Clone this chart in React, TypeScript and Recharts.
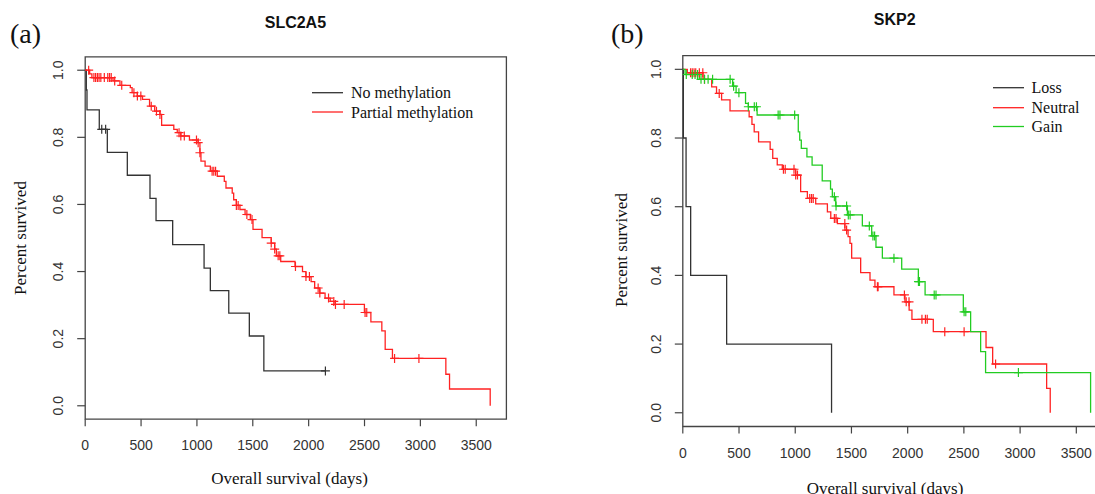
import React from "react";
import { ComposedChart, Line, XAxis, YAxis, ReferenceArea } from "recharts";

// ---- panel (a) SLC2A5 ----
const aNoT = [0, 10, 16, 126, 198, 377, 580, 634, 783, 1064, 1120, 1285, 1469, 1599, 2150];
const aNoS = [1, 0.941, 0.882, 0.824, 0.755, 0.687, 0.618, 0.552, 0.48, 0.41, 0.343, 0.276, 0.208, 0.104, 0.104];
const aNoCens = [148, 183, 2150];

const aPartT = [0, 40, 60, 249, 311, 404, 420, 467, 513, 576, 622, 669, 684, 793, 824, 856, 933, 1011, 1027, 1036, 1073, 1120, 1182, 1245, 1260, 1316, 1329, 1353, 1385, 1431, 1478, 1502, 1583, 1665, 1696, 1711, 1750, 1878, 1945, 1976, 2022, 2054, 2100, 2147, 2193, 2236, 2499, 2557, 2655, 2685, 2750, 3228, 3261, 3625];
const aPartS = [1, 0.989, 0.978, 0.968, 0.955, 0.948, 0.933, 0.923, 0.913, 0.893, 0.878, 0.868, 0.836, 0.824, 0.814, 0.804, 0.792, 0.784, 0.754, 0.729, 0.714, 0.699, 0.684, 0.669, 0.649, 0.634, 0.614, 0.597, 0.585, 0.57, 0.555, 0.526, 0.501, 0.485, 0.467, 0.447, 0.43, 0.415, 0.4, 0.385, 0.37, 0.351, 0.336, 0.321, 0.311, 0.302, 0.278, 0.25, 0.223, 0.168, 0.141, 0.094, 0.05, 0];
const aPartCens = [31, 78, 93, 109, 124, 140, 171, 202, 218, 233, 264, 327, 436, 467, 498, 591, 638, 669, 840, 856, 887, 996, 1011, 1027, 1136, 1151, 1167, 1353, 1369, 1447, 1493, 1665, 1696, 1727, 1742, 1882, 1976, 2007, 2085, 2100, 2178, 2225, 2240, 2318, 2505, 2520, 2769, 2987];

// ---- panel (b) SKP2 ----
const bLossT = [0, 5, 29, 70, 390, 1323];
const bLossS = [1, 0.8, 0.6, 0.4, 0.2, 0];

const bNeuT = [0, 40, 180, 257, 300, 345, 420, 590, 615, 635, 674, 777, 800, 840, 885, 1004, 1048, 1108, 1182, 1286, 1316, 1375, 1442, 1470, 1487, 1502, 1582, 1665, 1709, 1878, 1976, 2013, 2038, 2228, 2697, 2756, 3236, 3268];
const bNeuS = [1, 0.99, 0.971, 0.949, 0.93, 0.911, 0.879, 0.862, 0.84, 0.818, 0.789, 0.767, 0.741, 0.722, 0.709, 0.692, 0.644, 0.624, 0.608, 0.585, 0.566, 0.551, 0.532, 0.513, 0.493, 0.45, 0.408, 0.386, 0.367, 0.343, 0.323, 0.299, 0.272, 0.236, 0.19, 0.142, 0.071, 0];
const bNeuCens = [69, 84, 100, 115, 147, 178, 193, 324, 895, 911, 989, 1004, 1020, 1129, 1145, 1160, 1348, 1363, 1441, 1457, 1731, 1737, 1971, 1987, 2012, 2127, 2158, 2174, 2330, 2502, 2782];

const bGainT = [0, 20, 147, 443, 474, 558, 583, 661, 1027, 1040, 1054, 1104, 1150, 1240, 1314, 1330, 1360, 1464, 1597, 1680, 1718, 1775, 1947, 2095, 2155, 2495, 2560, 2649, 2693, 3627];
const bGainS = [1, 0.985, 0.971, 0.951, 0.932, 0.901, 0.891, 0.867, 0.818, 0.794, 0.77, 0.745, 0.721, 0.675, 0.651, 0.629, 0.602, 0.576, 0.544, 0.515, 0.482, 0.45, 0.418, 0.382, 0.343, 0.294, 0.236, 0.178, 0.117, 0];
const bGainCens = [31, 84, 109, 131, 162, 193, 225, 265, 421, 452, 499, 583, 636, 655, 848, 864, 995, 1348, 1363, 1457, 1472, 1488, 1659, 1691, 1706, 1878, 2096, 2105, 2236, 2252, 2502, 2517, 2985];

const xTicks = [0, 500, 1000, 1500, 2000, 2500, 3000, 3500];
const yTicks = [0, 0.2, 0.4, 0.6, 0.8, 1.0];

const BLACK = "#333";
const RED = "#ff2222";
const GREEN = "#22cc22";
const AXIS = "#444";

const steps = (t: number[], s: number[]) => t.map((v, i) => ({ t: v, s: s[i] }));

// survival value at a censoring time, taken from the step curve
const censors = (c: number[], t: number[], s: number[]) =>
  c.map((v) => {
    let val = s[0];
    for (let i = 0; i < t.length; i++) if (t[i] <= v) val = s[i];
    return { t: v, s: val };
  });

const plusDot = (color: string) => (p: any) => {
  if (p.cx == null || p.cy == null) return <g key={p.index} />;
  const { cx, cy } = p;
  return (
    <path
      key={p.index}
      d={`M${cx - 4.5},${cy}H${cx + 4.5}M${cx},${cy - 4.5}V${cy + 4.5}`}
      stroke={color}
      strokeWidth={1.2}
      fill="none"
    />
  );
};

const xTick = (labelY: number) => (p: any) => (
  <text x={p.x} y={labelY} textAnchor="middle" fontSize={14} fill="#333" fontFamily="Liberation Sans, Arial, sans-serif">
    {p.payload.value}
  </text>
);

const yTick = (labelX: number) => (p: any) => (
  <text
    x={labelX}
    y={p.y}
    transform={`rotate(-90, ${labelX}, ${p.y})`}
    textAnchor="middle"
    fontSize={14}
    fill="#333"
    fontFamily="Liberation Sans, Arial, sans-serif"
  >
    {p.payload.value.toFixed(1)}
  </text>
);

interface Series {
  t: number[];
  s: number[];
  cens?: number[];
  color: string;
}

interface PanelProps {
  left: number;
  width: number;
  margin: { top: number; right: number; bottom: number; left: number };
  xMax: number;
  series: Series[];
  xLabelY: number;
  yLabelX: number;
}

const KMPanel = ({ left, width, margin, xMax, series, xLabelY, yLabelX }: PanelProps) => (
  <div style={{ position: "absolute", left, top: 0 }}>
    <ComposedChart width={width} height={494} margin={margin}>
      <XAxis
        type="number"
        dataKey="t"
        domain={[0, xMax]}
        ticks={xTicks}
        allowDataOverflow
        height={30}
        axisLine={false}
        tickLine={{ stroke: AXIS, strokeWidth: 1.2 }}
        tickSize={7}
        tick={xTick(xLabelY)}
      />
      <YAxis
        type="number"
        dataKey="s"
        domain={[-0.04, 1.04]}
        ticks={yTicks}
        allowDataOverflow
        width={40}
        axisLine={false}
        tickLine={{ stroke: AXIS, strokeWidth: 1.2 }}
        tickSize={8}
        tick={yTick(yLabelX)}
      />
      <ReferenceArea x1={0} x2={xMax} y1={-0.04} y2={1.04} fill="none" stroke={AXIS} strokeWidth={1.3} ifOverflow="visible" />
      {series.map((se, i) => (
        <Line
          key={`l${i}`}
          data={steps(se.t, se.s)}
          dataKey="s"
          type="stepAfter"
          stroke={se.color}
          strokeWidth={1.3}
          dot={false}
          activeDot={false}
          isAnimationActive={false}
        />
      ))}
      {series
        .filter((se) => se.cens)
        .map((se, i) => (
          <Line
            key={`c${i}`}
            data={censors(se.cens as number[], se.t, se.s)}
            dataKey="s"
            stroke="none"
            dot={plusDot(se.color)}
            activeDot={false}
            isAnimationActive={false}
          />
        ))}
    </ComposedChart>
  </div>
);

const serif = "Liberation Serif, Times New Roman, serif";
const sans = "Liberation Sans, Arial, sans-serif";

export default function App() {
  return (
    <div style={{ position: "absolute", left: 0, top: 0, width: 1095, height: 494, overflow: "hidden", background: "#fff" }}>
      <KMPanel
        left={0}
        width={545}
        margin={{ top: 56.8, right: 38.6, bottom: 44.8, left: 45.2 }}
        xMax={3770}
        xLabelY={450}
        yLabelX={63.4}
        series={[
          { t: aNoT, s: aNoS, cens: aNoCens, color: BLACK },
          { t: aPartT, s: aPartS, cens: aPartCens, color: RED },
        ]}
      />
      <KMPanel
        left={545}
        width={580}
        margin={{ top: 55.6, right: 18.1, bottom: 37.5, left: 97.8 }}
        xMax={3772}
        xLabelY={458}
        yLabelX={116.5}
        series={[
          { t: bLossT, s: bLossS, color: BLACK },
          { t: bNeuT, s: bNeuS, cens: bNeuCens, color: RED },
          { t: bGainT, s: bGainS, cens: bGainCens, color: GREEN },
        ]}
      />
      <svg width={1095} height={494} style={{ position: "absolute", left: 0, top: 0, pointerEvents: "none" }}>
        {/* titles and panel letters */}
        <text x={295.4} y={27.5} textAnchor="middle" fontFamily={sans} fontWeight="bold" fontSize={16} fill="#111">SLC2A5</text>
        <text x={894.7} y={25} textAnchor="middle" fontFamily={sans} fontWeight="bold" fontSize={16} fill="#111">SKP2</text>
        <text x={10} y={43} fontFamily={serif} fontSize={28} fill="#111">(a)</text>
        <text x={611} y={43} fontFamily={serif} fontSize={28} fill="#111">(b)</text>

        {/* axis titles */}
        <text x={289.5} y={484} textAnchor="middle" fontFamily={serif} fontSize={17} fill="#111">Overall survival (days)</text>
        <text x={885} y={494} textAnchor="middle" fontFamily={serif} fontSize={17} fill="#111">Overall survival (days)</text>
        <text x={26} y={238} transform="rotate(-90, 26, 238)" textAnchor="middle" fontFamily={serif} fontSize={17} fill="#111">Percent survived</text>
        <text x={627} y={250} transform="rotate(-90, 627, 250)" textAnchor="middle" fontFamily={serif} fontSize={17} fill="#111">Percent survived</text>

        {/* legend (a) */}
        <line x1={312} x2={343} y1={92.7} y2={92.7} stroke={BLACK} strokeWidth={1.3} />
        <line x1={312} x2={343} y1={112} y2={112} stroke={RED} strokeWidth={1.3} />
        <text x={351} y={98} fontFamily={serif} fontSize={16} fill="#111">No methylation</text>
        <text x={351} y={117.5} fontFamily={serif} fontSize={16} fill="#111">Partial methylation</text>

        {/* legend (b) */}
        <line x1={993} x2={1024} y1={87.7} y2={87.7} stroke={BLACK} strokeWidth={1.3} />
        <line x1={993} x2={1024} y1={107.7} y2={107.7} stroke={RED} strokeWidth={1.3} />
        <line x1={993} x2={1024} y1={126.5} y2={126.5} stroke={GREEN} strokeWidth={1.3} />
        <text x={1031.5} y={93} fontFamily={serif} fontSize={16} fill="#111">Loss</text>
        <text x={1031.5} y={113} fontFamily={serif} fontSize={16} fill="#111">Neutral</text>
        <text x={1031.5} y={132} fontFamily={serif} fontSize={16} fill="#111">Gain</text>
      </svg>
    </div>
  );
}
